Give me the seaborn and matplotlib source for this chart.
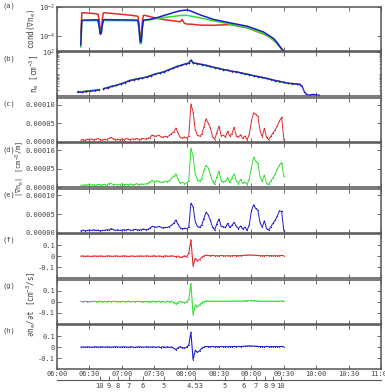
import numpy as np
import matplotlib
matplotlib.use("Agg")
import matplotlib.pyplot as plt
import seaborn as sns
from matplotlib.ticker import NullLocator, FixedLocator

# ---------------------------------------------
# style
# ---------------------------------------------
sns.set_style("ticks")
plt.rcParams["font.family"] = ["DejaVu Sans Mono", "DejaVu Sans"]
plt.rcParams["mathtext.fontset"] = "custom"
plt.rcParams["mathtext.rm"] = "DejaVu Sans Mono"
plt.rcParams["mathtext.it"] = "DejaVu Sans Mono:italic"
plt.rcParams["axes.unicode_minus"] = False

RED = "#e32b2b"
GREEN = "#33dd33"
BLUE = "#1c1ccf"
TXT = "#444444"
EDGE = "#555555"

# ---------------------------------------------
# data  (time = minutes after 06:00)
# ---------------------------------------------
XTICK_MIN = [0, 30, 60, 90, 120, 150, 180, 210, 240, 270, 300]
XTICK_LABELS = ["06:00", "06:30", "07:00", "07:30", "08:00", "08:30",
                "09:00", "09:30", "10:00", "10:30", "11:00"]

L_TICK_MIN = [39.7, 48.2, 56.5, 66.7, 79.6, 99.0, 127.6,
              155.3, 172.8, 183.8, 193.0, 199.8, 207.2]
L_LABELS = ["10", "9", "8", "7", "6", "5", "4.53",
            "5", "6", "7", "8", "9", "10"]

# (a) cond(grad n_e), log10 values
T_A = [22, 23, 24, 30, 37, 38, 39, 40, 41, 42, 43, 44, 52, 60, 68, 74, 75, 76,
       77, 78, 79, 80, 81, 86, 93, 99, 105, 110, 114, 116, 118, 121, 124, 133,
       145, 160, 176, 191, 197, 201, 204, 207, 209, 210]
COND_RED = [-3.93, -2.40, -2.39, -2.42, -2.47, -2.50, -2.9, -3.55, -3.6, -2.8,
            -2.40, -2.39, -2.45, -2.50, -2.56, -2.62, -2.64, -3.2, -4.1, -4.05,
            -3.0, -2.58, -2.56, -2.66, -2.78, -2.86, -2.92, -2.96, -3.01, -2.86,
            -3.12, -3.17, -3.17, -3.24, -3.25, -3.2, -3.42, -3.84, -4.05, -4.3,
            -4.5, -4.8, -4.95, -5.0]
COND_GREEN = [-4.75, -2.95, -2.93, -2.93, -2.94, -2.95, -3.3, -3.75, -3.7, -3.2,
              -2.95, -2.93, -2.93, -2.93, -2.93, -2.94, -2.96, -3.6, -4.5, -4.5,
              -3.5, -2.95, -2.92, -2.88, -2.78, -2.72, -2.66, -2.62, -2.58, -2.57,
              -2.57, -2.58, -2.62, -2.75, -2.94, -3.17, -3.40, -3.82, -4.05, -4.3,
              -4.52, -4.8, -4.95, -5.0]
COND_BLUE = [-4.6, -2.92, -2.90, -2.89, -2.87, -2.88, -3.3, -3.86, -3.8, -3.2,
             -2.88, -2.86, -2.87, -2.88, -2.89, -2.90, -2.92, -3.5, -4.35, -4.4,
             -3.4, -2.90, -2.89, -2.84, -2.72, -2.58, -2.45, -2.33, -2.26, -2.24,
             -2.22, -2.21, -2.28, -2.55, -2.85, -3.08, -3.31, -3.70, -3.98, -4.18,
             -4.45, -4.75, -4.95, -5.0]

# (b) n_e, log10 values
T_B = [19, 23, 27, 31, 35, 39, 40, 43, 47, 51, 55, 59, 63, 67, 71, 75, 79, 83,
       87, 91, 95, 99, 103, 107, 111, 115, 119, 122, 124, 126, 130, 134, 138,
       142, 146, 150, 154, 158, 162, 166, 170, 174, 178, 182, 186, 190, 194,
       198, 202, 206, 210, 214, 218, 222, 225, 227, 229, 231, 234, 237, 240, 243]
NE_BLUE = [0.20, 0.19, 0.23, 0.24, 0.27, 0.30, np.nan, 0.35, 0.40, 0.46, 0.50,
           0.57, 0.63, 0.72, 0.76, 0.80, 0.83, 0.88, 0.95, 1.02, 1.06, 1.12,
           1.20, 1.28, 1.36, 1.42, 1.48, 1.52, 1.66, 1.53, 1.49, 1.45, 1.41,
           1.36, 1.31, 1.27, 1.22, 1.19, 1.14, 1.12, 1.07, 1.03, 0.99, 0.94,
           0.90, 0.86, 0.82, 0.77, 0.72, 0.68, 0.64, 0.60, 0.58, 0.56, 0.54,
           0.45, 0.22, 0.10, 0.06, 0.09, 0.07, 0.05]
NE_GREEN = [0.23, 0.22, 0.26, 0.27, 0.29, 0.32, np.nan, 0.36, 0.41, 0.48, 0.51,
            0.58, 0.65, 0.73, 0.77, 0.81, 0.85, 0.89, 0.96, 1.03, 1.08, 1.13,
            1.21, 1.29, 1.37, 1.43, 1.49, 1.53, 1.64, 1.54, 1.48, 1.44, 1.40,
            1.35, 1.30, 1.28, 1.21, 1.18, 1.15, 1.11, 1.06, 1.02, 0.98, 0.95,
            0.89, 0.85, 0.81, 0.78, 0.71, 0.67, 0.63, 0.61, 0.57, 0.55, 0.53]
NE_RED = [0.19, 0.20, 0.22, 0.25, 0.26, 0.29, np.nan, 0.34, 0.39, 0.45, 0.51,
          0.56, 0.64, 0.71, 0.75, 0.81, 0.84, 0.87, 0.94, 1.01, 1.07, 1.11,
          1.19, 1.27, 1.35, 1.41, 1.47, 1.51, 1.63, 1.52, 1.50, 1.46, 1.42,
          1.37, 1.32, 1.26, 1.23, 1.20, 1.13, 1.13, 1.08, 1.04, 1.00, 0.93,
          0.91, 0.87, 0.83, 0.76, 0.73, 0.69, 0.65, 0.59, 0.59, 0.57, 0.55]

# (c)-(h) shared sample times
T_G = [22, 24, 26, 28, 30, 32, 34, 36, 38, 40,
       42, 44, 46, 48, 50, 52, 54, 56, 58, 60,
       62, 64, 66, 68, 70, 72, 74, 76, 78, 80,
       82, 84, 86, 88, 90, 92, 94, 96, 98, 100,
       102, 104, 106, 108, 110, 112, 114, 116, 118, 120,
       122, 124, 126, 128, 130, 132, 134, 136, 138, 140,
       142, 144, 146, 148, 150, 152, 154, 156, 158, 160,
       162, 164, 166, 168, 170, 172, 174, 176, 178, 180,
       182, 184, 186, 188, 190, 192, 194, 196, 198, 200,
       202, 204, 206, 208, 210]

# |grad n_e| in units of 1e-5 cm^-3/m
GRAD_RED = [0.5, 0.6, 0.4, 0.7, 0.6, 0.8, 0.5, 0.7, 0.9, 0.6,
            0.5, 0.7, 0.6, 0.9, 1.2, 0.8, 0.6, 0.7, 0.5, 0.8,
            0.6, 0.9, 0.7, 0.6, 0.8, 0.7, 0.9, 0.6, 0.8, 0.9,
            0.7, 1.0, 1.1, 1.8, 1.6, 1.5, 1.8, 1.4, 1.2, 1.5,
            1.3, 1.7, 2.2, 2.6, 3.7, 2.4, 1.2, 1.0, 1.3, 1.0,
            1.5, 10.2, 8.0, 3.2, 1.8, 1.5, 2.0, 4.0, 6.2, 5.0,
            3.7, 1.4, 0.6, 2.5, 4.2, 1.6, 1.8, 1.3, 2.8, 1.5,
            2.2, 3.9, 1.6, 1.2, 1.9, 0.9, 1.6, 0.5, 2.0, 5.5,
            7.8, 7.4, 6.8, 3.0, 1.4, 3.6, 1.2, 0.6, 1.5, 2.4,
            3.2, 4.3, 5.6, 6.6, 0.5]
GRAD_GREEN = [0.6, 0.5, 0.7, 0.6, 0.8, 0.6, 0.7, 0.5, 0.8, 0.7,
              0.6, 0.8, 0.5, 1.0, 1.1, 0.7, 0.8, 0.6, 0.7, 0.9,
              0.7, 0.8, 0.6, 0.9, 0.7, 0.8, 1.0, 0.7, 0.9, 0.8,
              0.9, 1.1, 1.3, 1.9, 1.5, 1.7, 1.6, 1.3, 1.4, 1.6,
              1.5, 1.8, 2.4, 2.9, 3.6, 2.2, 1.1, 1.3, 1.0, 1.2,
              1.6, 10.5, 8.4, 3.5, 2.0, 1.6, 2.3, 4.5, 5.9, 5.2,
              3.5, 1.6, 0.8, 2.8, 4.3, 1.8, 1.5, 1.6, 2.6, 1.3,
              2.5, 3.6, 1.8, 1.0, 2.1, 1.1, 1.4, 0.7, 2.2, 5.3,
              8.0, 7.0, 6.4, 2.8, 1.6, 3.3, 1.0, 0.8, 1.7, 2.6,
              3.5, 4.8, 6.0, 6.6, 2.9]
GRAD_BLUE = [0.5, 0.7, 0.5, 0.6, 0.7, 0.6, 0.8, 0.6, 0.7, 0.5,
             0.6, 0.6, 0.8, 0.7, 1.1, 0.9, 0.6, 0.8, 0.6, 0.7,
             0.8, 0.7, 0.9, 0.6, 0.7, 0.9, 0.8, 0.7, 0.8, 1.0,
             0.8, 0.9, 1.2, 1.7, 1.6, 1.4, 1.7, 1.5, 1.3, 1.4,
             1.4, 1.6, 2.0, 2.5, 3.4, 2.3, 1.3, 1.1, 1.2, 1.1,
             1.4, 7.9, 7.0, 3.0, 1.7, 1.4, 2.1, 3.8, 5.5, 4.8,
             3.3, 1.5, 0.7, 2.4, 3.7, 1.7, 1.6, 1.4, 2.5, 1.4,
             2.0, 2.8, 1.7, 1.1, 1.8, 1.0, 1.5, 0.6, 2.1, 5.8,
             7.5, 6.5, 6.0, 2.7, 1.5, 3.2, 1.1, 0.7, 1.6, 2.5,
             3.3, 4.5, 5.9, 5.7, 0.5]

# dn_e/dt in cm^-3/s
DNDT_RED = [0.000, 0.002, -0.002, 0.001, 0.000, -0.003, 0.002, 0.001, -0.001, 0.002,
            0.000, -0.002, 0.001, 0.003, 0.000, -0.001, 0.002, 0.001, -0.002, 0.000,
            0.003, 0.001, -0.002, 0.000, 0.002, -0.003, 0.001, 0.000, 0.002, -0.001,
            0.001, 0.003, -0.002, 0.000, 0.004, -0.003, 0.002, 0.000, -0.004, 0.003,
            0.001, -0.002, 0.004, 0.000, -0.006, 0.002, -0.012, -0.008, 0.003, -0.006,
            0.025, 0.150, -0.090, -0.020, -0.040, -0.032, -0.012, 0.002, 0.010, 0.006,
            0.004, 0.007, 0.003, 0.005, 0.002, 0.006, 0.004, 0.003, 0.005, 0.002,
            0.004, 0.006, 0.003, 0.005, 0.004, 0.006, 0.008, 0.010, 0.011, 0.009,
            0.010, 0.008, 0.006, 0.004, 0.005, 0.003, 0.006, 0.004, 0.005, 0.003,
            0.005, 0.003, 0.004, 0.006, 0.004]
DNDT_GREEN = [0.001, -0.001, 0.002, 0.000, -0.002, 0.001, 0.003, -0.001, 0.000, 0.002,
              -0.001, 0.001, 0.000, 0.003, -0.002, 0.001, 0.002, -0.001, 0.000, 0.002,
              0.001, -0.002, 0.003, 0.000, 0.001, -0.003, 0.002, 0.001, -0.001, 0.000,
              0.002, 0.000, -0.003, 0.003, 0.001, -0.002, 0.004, -0.004, 0.002, -0.005,
              0.003, -0.003, 0.002, -0.008, -0.022, -0.010, 0.004, -0.006, -0.010, -0.004,
              0.020, 0.165, -0.120, -0.030, -0.050, -0.030, -0.010, 0.000, 0.006, 0.004,
              0.003, 0.006, 0.002, 0.004, 0.001, 0.005, 0.003, 0.004, 0.002, 0.005,
              0.003, 0.005, 0.004, 0.006, 0.003, 0.005, 0.007, 0.009, 0.010, 0.008,
              0.009, 0.007, 0.005, 0.003, 0.004, 0.002, 0.005, 0.003, 0.004, 0.002,
              0.004, 0.002, 0.003, 0.005, 0.003]
DNDT_BLUE = [0.000, 0.001, -0.001, 0.002, 0.000, -0.002, 0.001, 0.002, -0.001, 0.001,
             0.002, -0.001, 0.000, 0.002, -0.003, 0.001, 0.003, 0.000, -0.001, 0.001,
             0.002, 0.000, -0.002, 0.002, 0.000, -0.004, 0.001, 0.002, 0.000, -0.001,
             0.001, 0.002, -0.002, 0.002, 0.000, -0.003, 0.003, -0.005, 0.003, -0.004,
             0.002, -0.004, 0.001, -0.010, -0.024, -0.008, 0.003, -0.005, -0.008, -0.003,
             0.018, 0.135, -0.115, -0.030, -0.048, -0.035, -0.012, 0.000, 0.005, 0.004,
             0.003, 0.005, 0.002, 0.004, 0.002, 0.005, 0.003, 0.004, 0.002, 0.004,
             0.003, 0.005, 0.004, 0.005, 0.004, 0.006, 0.008, 0.009, 0.010, 0.009,
             0.009, 0.007, 0.005, 0.004, 0.004, 0.003, 0.005, 0.003, 0.004, 0.003,
             0.004, 0.003, 0.003, 0.005, 0.002]


def trace(ax, t, v, color, lw=0.8, ms=0.0):
    """draw one series with seaborn, breaking the line at NaN gaps"""
    t = np.asarray(t, float)
    v = np.asarray(v, float)
    cuts = [-1] + list(np.flatnonzero(~np.isfinite(v))) + [len(v)]
    for a, b in zip(cuts[:-1], cuts[1:]):
        if b - a - 1 < 2:
            continue
        kw = dict(color=color, linewidth=lw, ax=ax, sort=False,
                  estimator=None, legend=False)
        if ms > 0:
            kw.update(marker=".", markersize=ms, markeredgewidth=0)
        sns.lineplot(x=t[a + 1:b], y=v[a + 1:b], **kw)


# ---------------------------------------------
# figure
# ---------------------------------------------
W, H = 385, 392
fig = plt.figure(figsize=(W / 100, H / 100), dpi=100)
gs = fig.add_gridspec(8, 1, left=57 / W, right=381 / W,
                      top=1 - 7 / H, bottom=1 - 369 / H, hspace=0.034)
axes = [fig.add_subplot(gs[i]) for i in range(8)]

for ax in axes:
    ax.set_facecolor("white")
    for s in ax.spines.values():
        s.set_color(EDGE)
        s.set_linewidth(1.1)
    ax.tick_params(which="both", direction="in", top=True, right=True,
                   colors=EDGE, labelcolor=TXT, labelsize=5, pad=1.5)
    ax.tick_params(which="major", length=3, width=0.6)
    ax.tick_params(which="minor", length=1.5, width=0.5)

# (a)
ax = axes[0]
ax.set_yscale("log")
for vals, c in [(COND_RED, RED), (COND_GREEN, GREEN), (COND_BLUE, BLUE)]:
    trace(ax, T_A, 10 ** np.asarray(vals), c, lw=1.1)
ax.set_ylim(1e-5, 1e-2)
ax.yaxis.set_major_locator(FixedLocator([1e-4, 1e-2]))
ax.set_yticklabels(["10$^{-4}$", "10$^{-2}$"])
ax.yaxis.set_minor_locator(NullLocator())

# (b)
ax = axes[1]
ax.set_yscale("log")
n_g = len(NE_GREEN)
trace(ax, T_B[:n_g], 10 ** np.asarray(NE_RED), RED, lw=0.9, ms=2.2)
trace(ax, T_B[:n_g], 10 ** np.asarray(NE_GREEN), GREEN, lw=0.9, ms=2.2)
trace(ax, T_B, 10 ** np.asarray(NE_BLUE), BLUE, lw=0.9, ms=2.2)
ax.set_ylim(1, 100)
ax.yaxis.set_major_locator(FixedLocator([100]))
ax.set_yticklabels(["10$^{2}$"])
ax.yaxis.set_minor_locator(FixedLocator([2, 3, 4, 5, 6, 7, 8, 9, 10, 20, 30,
                                         40, 50, 60, 70, 80, 90]))
ax.yaxis.set_minor_formatter(plt.NullFormatter())

# (c)-(e)
for ax, vals, c in [(axes[2], GRAD_RED, RED), (axes[3], GRAD_GREEN, GREEN),
                    (axes[4], GRAD_BLUE, BLUE)]:
    trace(ax, T_G, np.asarray(vals) * 1e-5, c, lw=0.7, ms=1.8)
    ax.set_ylim(0, 0.000118)
    ax.set_yticks([0, 0.00005, 0.0001])
    ax.set_yticklabels(["0.00000", "0.00005", "0.00010"])

# (f)-(h)
for ax, vals, c in [(axes[5], DNDT_RED, RED), (axes[6], DNDT_GREEN, GREEN),
                    (axes[7], DNDT_BLUE, BLUE)]:
    trace(ax, T_G, vals, c, lw=0.8, ms=1.6)
    ax.set_ylim(-0.2, 0.2)
    ax.set_yticks([-0.1, 0, 0.1])
    ax.set_yticklabels(["-0.1", "0", "0.1"])

for i, ax in enumerate(axes):
    ax.set_xlim(0, 300)
    ax.set_xticks(XTICK_MIN)
    ax.set_xlabel("")
    ax.set_ylabel("")
    if i < 7:
        ax.tick_params(labelbottom=False)
axes[7].set_xticklabels(XTICK_LABELS)

# second time scale (L values) under the plot
ax2 = fig.add_axes([57 / W, 1 - 380 / H, 324 / W, 0.0001])
ax2.set_facecolor("none")
for s in ["left", "right", "top"]:
    ax2.spines[s].set_visible(False)
ax2.spines["bottom"].set_color(EDGE)
ax2.spines["bottom"].set_linewidth(0.8)
ax2.set_yticks([])
ax2.set_xlim(0, 300)
ax2.set_xticks(L_TICK_MIN)
ax2.set_xticklabels(L_LABELS)
ax2.tick_params(axis="x", direction="in", length=3, width=0.6, colors=EDGE,
                labelcolor=TXT, labelsize=5, pad=2)

# panel letters and axis titles
tops = [ax.get_position().y1 for ax in axes]
for i, letter in enumerate("abcdefgh"):
    y = 1 - 6 / H if i == 0 else tops[i] - 6 / H
    fig.text(2 / W, y, "(" + letter + ")", fontsize=5, color=TXT,
             ha="left", va="center")


def mid(ax):
    p = ax.get_position()
    return 0.5 * (p.y0 + p.y1)


fig.text(32 / W, mid(axes[0]), "cond(\u2207n$_{\\rm e}$)", rotation=90,
         fontsize=5.5, color=TXT, ha="center", va="center")
fig.text(34 / W, mid(axes[1]), "n$_{\\rm e}$ [cm$^{-3}$]", rotation=90,
         fontsize=5.5, color=TXT, ha="center", va="center")
fig.text(20 / W, mid(axes[3]) - 4 / H,
         "|\u2207n$_{\\rm e}$| [cm$^{-3}$/m]", rotation=90,
         fontsize=5, color=TXT, ha="center", va="center")
fig.text(31 / W, mid(axes[6]) - 3 / H,
         "\u2202n$_{\\rm e}$/\u2202t [cm$^{-3}$/s]", rotation=90,
         fontsize=5.5, color=TXT, ha="center", va="center")

fig.savefig("out.png", dpi=100, facecolor="white")
